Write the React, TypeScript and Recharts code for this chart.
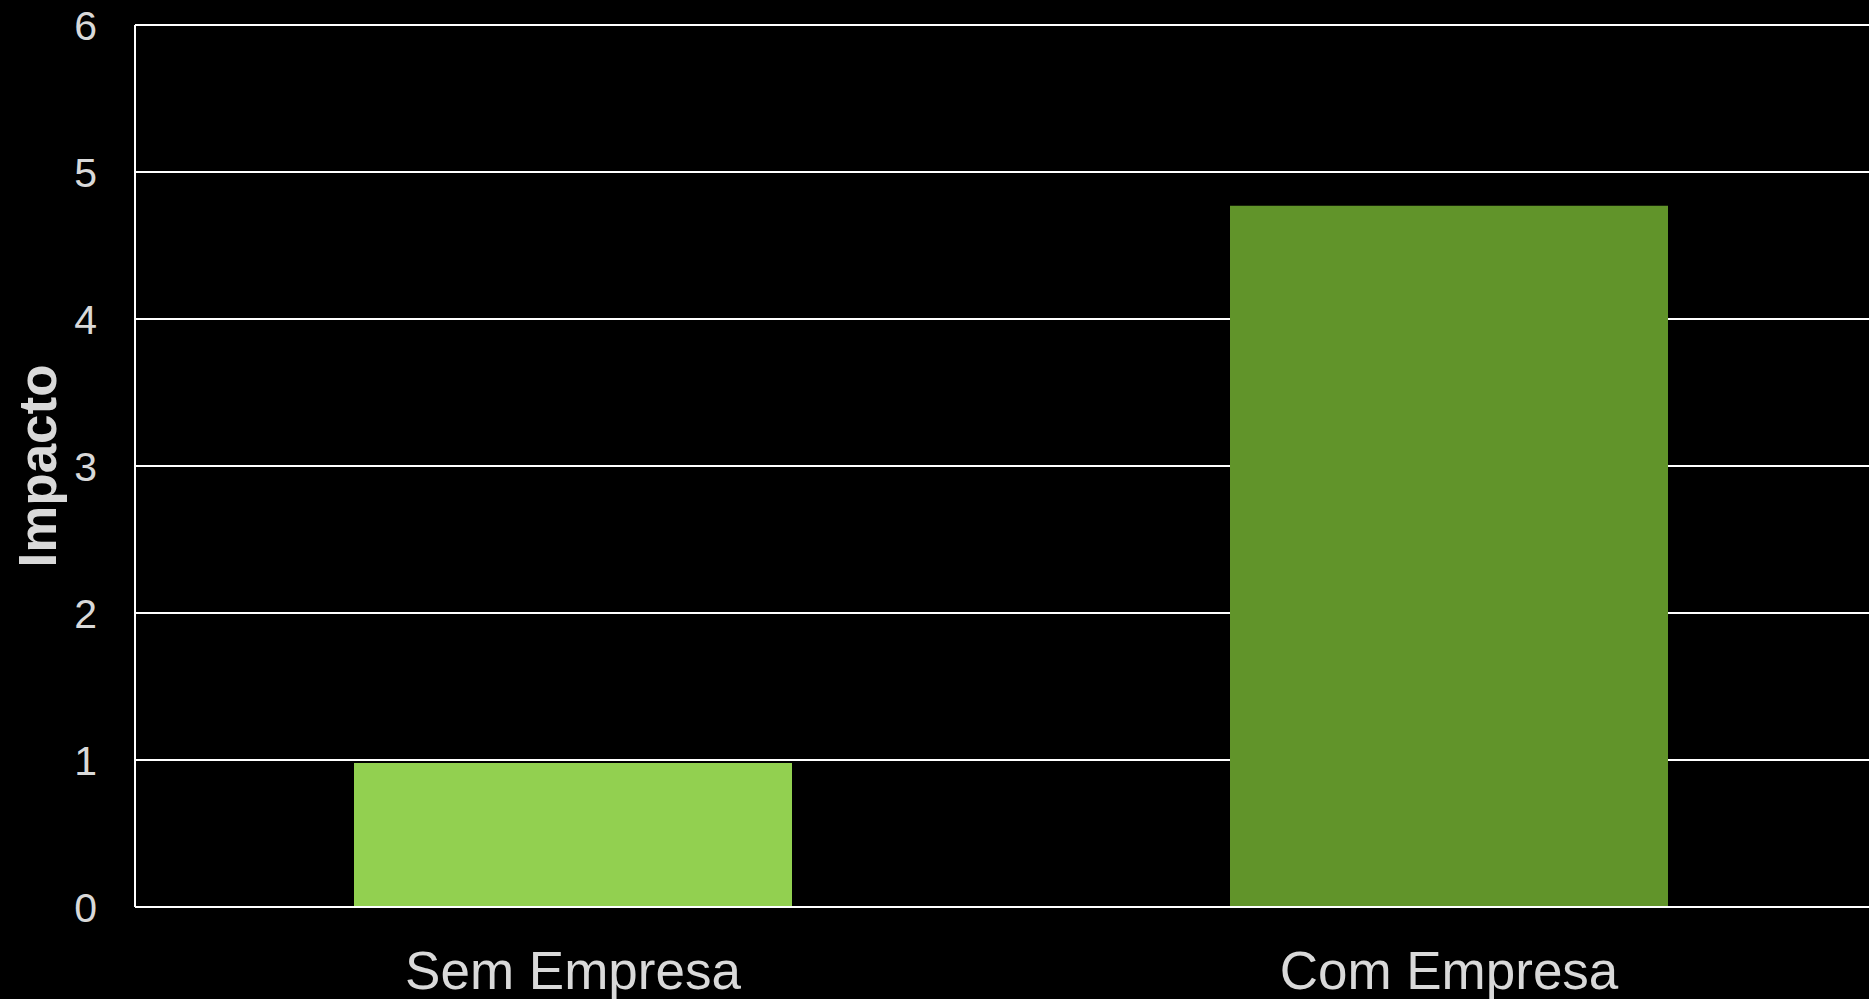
import React from 'react';
import { BarChart, Bar, XAxis, YAxis, CartesianGrid, Cell } from 'recharts';

const categories = ['Sem Empresa', 'Com Empresa'];
const impacto = [0.98, 4.77];
const barColors = ['#92D050', '#61942A'];
const yTicks = [0, 1, 2, 3, 4, 5, 6];
const yLabel = 'Impacto';

const data = categories.map((c, i) => ({ name: c, value: impacto[i] }));

const FONT = '"Liberation Sans", Arial, sans-serif';
const TEXT = '#d9d9d9';

const YLabel = (props: any) => {
  const vb = props.viewBox || {};
  const cy = vb.y + vb.height / 2;
  const x = 56;
  return (
    <text
      x={x}
      y={cy}
      transform={`rotate(-90, ${x}, ${cy})`}
      textAnchor="middle"
      fill={TEXT}
      fontFamily={FONT}
      fontSize={53}
      fontWeight="bold"
    >
      {yLabel}
    </text>
  );
};

export default function App() {
  return (
    <div
      style={{
        position: 'fixed',
        left: 0,
        top: 0,
        width: 1869,
        height: 999,
        overflow: 'hidden',
        background: '#000',
      }}
    >
      <BarChart
        width={1887}
        height={999}
        data={data}
        margin={{ top: 25, right: 0, bottom: 0, left: 0 }}
        barCategoryGap="25%"
        style={{ fontFamily: FONT }}
      >
        <CartesianGrid horizontal vertical={false} stroke="#ffffff" strokeWidth={2} />
        <XAxis
          dataKey="name"
          height={92}
          axisLine={{ stroke: '#ffffff', strokeWidth: 2 }}
          tickLine={false}
          tickSize={0}
          tickMargin={44}
          tick={{ fill: TEXT, fontSize: 53, fontFamily: FONT }}
        />
        <YAxis
          width={135}
          domain={[0, 6]}
          ticks={yTicks}
          interval={0}
          axisLine={{ stroke: '#ffffff', strokeWidth: 2 }}
          tickLine={false}
          tickSize={0}
          tickMargin={38}
          tick={{ fill: TEXT, fontSize: 41, fontFamily: FONT }}
          label={<YLabel />}
        />
        <Bar dataKey="value" isAnimationActive={false}>
          {data.map((d, i) => (
            <Cell key={d.name} fill={barColors[i]} />
          ))}
        </Bar>
      </BarChart>
    </div>
  );
}
